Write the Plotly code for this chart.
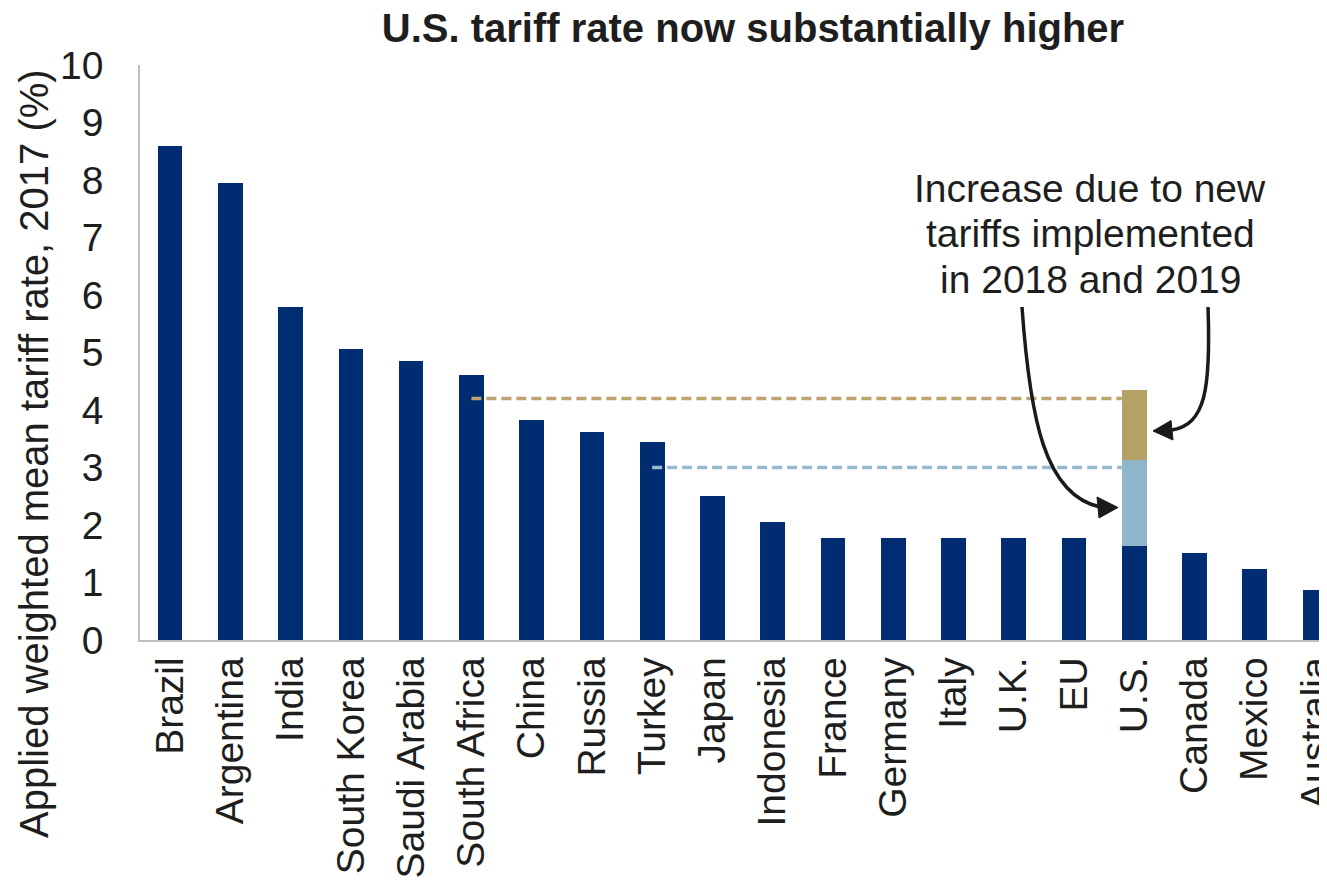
import plotly.graph_objects as go

# ---- data ----
categories = ["Brazil", "Argentina", "India", "South Korea", "Saudi Arabia", "South Africa",
              "China", "Russia", "Turkey", "Japan", "Indonesia", "France", "Germany", "Italy",
              "U.K.", "EU", "U.S.", "Canada", "Mexico", "Australia"]
tariff_2017 = [8.60, 7.94, 5.79, 5.06, 4.85, 4.61, 3.83, 3.61, 3.45, 2.50, 2.05,
               1.78, 1.78, 1.78, 1.78, 1.78, 1.64, 1.51, 1.23, 0.87]
us_increase_2018 = 1.49
us_increase_2019 = 1.22
ref_level_tan = 4.20     # dashed reference from South Africa
ref_level_blue = 3.00    # dashed reference from Turkey

NAVY = "#002D72"
LIGHTBLUE = "#8FB6CA"
TAN = "#B5A066"
TXT = "#1e1e1e"
FONT = "Liberation Sans, Arial, sans-serif"

# page geometry (pixels); the page body has an 8px margin
OFF = 8
PAGE_W, PAGE_H = 1327, 881
PL, PR, PT, PB = 140, 1327, 65, 640       # plot area in page pixels
W, H = PAGE_W - OFF, PAGE_H - OFF
ML, MT = PL - OFF, PT - OFF
MR = W - (PR - OFF)
MB = H - (PB - OFF)
XMIN, XMAX = -0.5, 19.2
YMIN, YMAX = 0, 10
BARW = 0.41

def px2x(px):
    return XMIN + (px - PL) / (PR - PL) * (XMAX - XMIN)

def py2y(py):
    return YMAX - (py - PT) / (PB - PT) * (YMAX - YMIN)

xs = list(range(len(categories)))
us_i = categories.index("U.S.")

fig = go.Figure()
fig.add_trace(go.Bar(x=xs, y=tariff_2017, width=BARW, marker=dict(color=NAVY, line=dict(width=0)),
                     showlegend=False, hoverinfo="skip"))
fig.add_trace(go.Bar(x=[us_i], y=[us_increase_2018], width=BARW,
                     marker=dict(color=LIGHTBLUE, line=dict(width=0)), showlegend=False))
fig.add_trace(go.Bar(x=[us_i], y=[us_increase_2019], width=BARW,
                     marker=dict(color=TAN, line=dict(width=0)), showlegend=False))

sa_i = categories.index("South Africa")
tk_i = categories.index("Turkey")
fig.add_trace(go.Scatter(x=[sa_i, us_i - BARW / 2], y=[ref_level_tan, ref_level_tan], mode="lines",
                         line=dict(color="#BAA56C", width=3.5, dash="10px,5px"), showlegend=False))
fig.add_trace(go.Scatter(x=[tk_i, us_i - BARW / 2], y=[ref_level_blue, ref_level_blue], mode="lines",
                         line=dict(color="#93BACD", width=3.5, dash="10px,5px"), showlegend=False))

# curved arrows (pixel estimates -> data coords)
def cubic(p0, p1, p2, p3):
    pts = [p0, p1, p2, p3]
    s = "M {:.4f},{:.4f} C ".format(px2x(pts[0][0]), py2y(pts[0][1]))
    s += " ".join("{:.4f},{:.4f}".format(px2x(a), py2y(b)) for a, b in pts[1:])
    return s

def tri(a, b, c):
    return "M {:.4f},{:.4f} L {:.4f},{:.4f} L {:.4f},{:.4f} Z".format(
        px2x(a[0]), py2y(a[1]), px2x(b[0]), py2y(b[1]), px2x(c[0]), py2y(c[1]))

ARROW = "#1a1a1a"
shapes = [
    dict(type="path", path=cubic((1022, 307), (1030, 420), (1045, 495), (1100, 507)),
         line=dict(color=ARROW, width=3.5), xref="x", yref="y"),
    dict(type="path", path=tri((1118, 507.5), (1097, 497), (1099, 518)),
         line=dict(color=ARROW, width=1), fillcolor=ARROW, xref="x", yref="y"),
    dict(type="path", path=cubic((1208, 307), (1211, 390), (1205, 425), (1172, 430)),
         line=dict(color=ARROW, width=3.5), xref="x", yref="y"),
    dict(type="path", path=tri((1153, 431), (1171, 420.5), (1173, 440)),
         line=dict(color=ARROW, width=1), fillcolor=ARROW, xref="x", yref="y"),
]

annotations = []
for txt, base in [("Increase due to new", 202), ("tariffs implemented", 247), ("in 2018 and 2019", 293)]:
    annotations.append(dict(text=txt, x=px2x(1090), y=py2y(base - 14), xref="x", yref="y",
                            xanchor="center", yanchor="middle", showarrow=False,
                            font=dict(family=FONT, size=39, color=TXT)))
annotations.append(dict(text="Applied weighted mean tariff rate, 2017 (%)", textangle=-90,
                        x=(34 - PL) / (PR - PL), y=(PB - 454) / (PB - PT),
                        xref="paper", yref="paper", xanchor="center", yanchor="middle",
                        showarrow=False, font=dict(family=FONT, size=40, color=TXT)))

fig.update_layout(
    width=W, height=H, barmode="stack", bargap=0,
    margin=dict(l=ML, r=MR, t=MT, b=MB, pad=0, autoexpand=False),
    paper_bgcolor="white", plot_bgcolor="white",
    title=dict(text="<b>U.S. tariff rate now substantially higher</b>", x=(753 - OFF) / W, xref="container",
               xanchor="center", y=1 - (28 - OFF) / H, yref="container", yanchor="middle",
               automargin=False, font=dict(family=FONT, size=40, color=TXT)),
    shapes=shapes, annotations=annotations,
    xaxis=dict(range=[XMIN, XMAX], tickvals=xs, ticktext=categories, tickangle=-90, automargin=False,
               showgrid=False, zeroline=False, showline=True, linecolor="#BFBFBF", linewidth=1.5,
               ticks="", ticklabelstandoff=0, ticklabeloverflow="allow",
               tickfont=dict(family=FONT, size=39, color=TXT)),
    yaxis=dict(range=[YMIN, YMAX], dtick=1, showgrid=False, zeroline=False, showline=True, automargin=False,
               linecolor="#BFBFBF", linewidth=1.5, ticks="", ticklabelstandoff=27,
               tickfont=dict(family=FONT, size=39, color=TXT)),
    font=dict(family=FONT, color=TXT),
)

fig.write_html("out.html")
